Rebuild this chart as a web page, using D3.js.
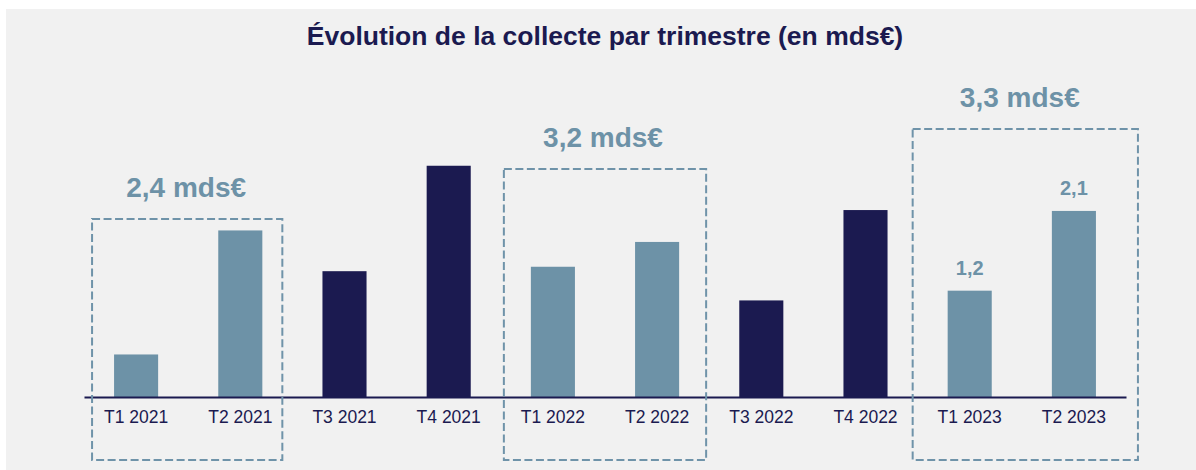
<!DOCTYPE html>
<html>
<head>
<meta charset="utf-8">
<script src="https://cdn.jsdelivr.net/npm/d3@7"></script>
<style>
  html, body { margin: 0; padding: 0; background: #ffffff; }
  svg { display: block; font-family: Arial, "Liberation Sans", sans-serif; }
</style>
</head>
<body>
<script>
// data (mds€)
var quarters = ["T1 2021", "T2 2021", "T3 2021", "T4 2021",
                "T1 2022", "T2 2022", "T3 2022", "T4 2022",
                "T1 2023", "T2 2023"];
var collecte = [0.48, 1.88, 1.42, 2.61, 1.47, 1.75, 1.09, 2.11, 1.2, 2.1];
var highlighted = ["T1 2021", "T2 2021", "T1 2022", "T2 2022", "T1 2023", "T2 2023"];
var labelled = ["T1 2023", "T2 2023"];
var groupFrom = ["T1 2021", "T1 2022", "T1 2023"];
var groupTo = ["T2 2021", "T2 2022", "T2 2023"];
var groupLabels = ["2,4 mds€", "3,2 mds€", "3,3 mds€"];

// layout of the dashed frames (pixels)
var boxTop = [219, 169, 129];
var boxPadL = [22, 27, 35];
var boxPadR = [20, 27, 42];
var boxBottom = 460;

var W = 1196, H = 470;
var navy = "#1b1a50", steel = "#6d92a7";

var svg = d3.select("body").append("svg")
    .attr("width", W)
    .attr("height", H);

svg.append("rect")
    .attr("x", 6).attr("y", 9)
    .attr("width", W - 6).attr("height", H - 9)
    .style("fill", "#f1f1f1");

svg.append("text")
    .attr("x", 605).attr("y", 45)
    .attr("text-anchor", "middle")
    .style("font-size", "26.5px")
    .style("font-weight", "bold")
    .style("fill", navy)
    .text("Évolution de la collecte par trimestre (en mds€)");

var x = d3.scaleBand()
    .domain(quarters)
    .range([84, 1126])
    .paddingInner(0.577)
    .paddingOuter(0.2885);

var y = d3.scaleLinear()
    .domain([0, 3])
    .range([397, 397 - 3 * 88.6]);

var data = quarters.map(function(q, i) { return {q: q, v: collecte[i]}; });

svg.selectAll("rect.bar")
    .data(data)
    .enter()
    .append("rect")
    .attr("class", "bar")
    .attr("x", function(d) { return x(d.q); })
    .attr("y", function(d) { return y(d.v); })
    .attr("width", x.bandwidth())
    .attr("height", function(d) { return y(0) - y(d.v); })
    .style("fill", function(d) { return highlighted.indexOf(d.q) >= 0 ? steel : navy; });

// baseline + category labels
var axis = d3.axisBottom(x).tickSize(0).tickPadding(14);
var ax = svg.append("g")
    .attr("transform", "translate(0," + y(0) + ")")
    .call(axis);
ax.select(".domain").attr("stroke", navy).attr("stroke-width", 2);
ax.selectAll("text")
    .style("font-size", "17.5px")
    .style("font-family", "Arial, 'Liberation Sans', sans-serif")
    .style("fill", navy);

// value labels
svg.selectAll("text.val")
    .data(data.filter(function(d) { return labelled.indexOf(d.q) >= 0; }))
    .enter()
    .append("text")
    .attr("class", "val")
    .attr("x", function(d) { return x(d.q) + x.bandwidth() / 2; })
    .attr("y", function(d) { return y(d.v) - 16; })
    .attr("text-anchor", "middle")
    .style("font-size", "20px")
    .style("font-weight", "bold")
    .style("fill", steel)
    .text(function(d) { return String(d.v).replace(".", ","); });

// dashed frames and totals
var groups = groupLabels.map(function(l, i) {
  return {
    x0: x(groupFrom[i]) - boxPadL[i],
    x1: x(groupTo[i]) + x.bandwidth() + boxPadR[i],
    mid: (x(groupFrom[i]) + x(groupTo[i]) + x.bandwidth()) / 2,
    top: boxTop[i],
    label: l
  };
});

svg.selectAll("rect.frame")
    .data(groups)
    .enter()
    .append("rect")
    .attr("class", "frame")
    .attr("x", function(d) { return d.x0; })
    .attr("y", function(d) { return d.top; })
    .attr("width", function(d) { return d.x1 - d.x0; })
    .attr("height", function(d) { return boxBottom - d.top; })
    .style("fill", "none")
    .style("stroke", "#6f93a9")
    .style("stroke-width", 2)
    .style("stroke-dasharray", "8,3.5");

svg.selectAll("text.grp")
    .data(groups)
    .enter()
    .append("text")
    .attr("class", "grp")
    .attr("x", function(d) { return d.mid - 2; })
    .attr("y", function(d) { return d.top - 22; })
    .attr("text-anchor", "middle")
    .style("font-size", "28px")
    .style("font-weight", "bold")
    .style("fill", steel)
    .text(function(d) { return d.label; });
</script>
</body>
</html>
